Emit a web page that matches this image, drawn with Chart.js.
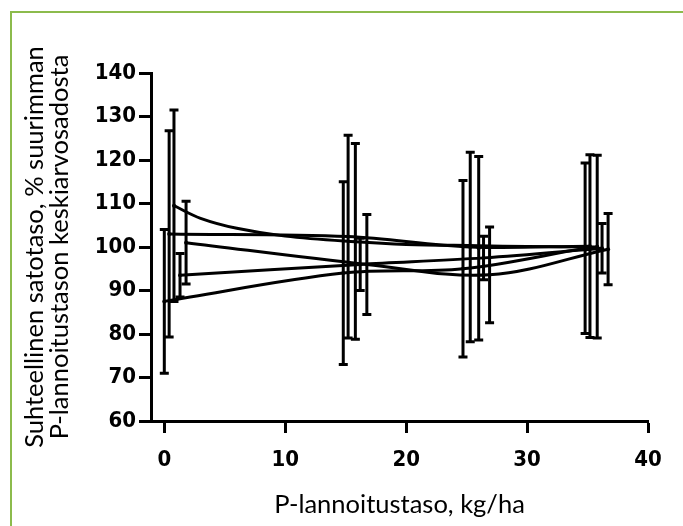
<!DOCTYPE html>
<html>
<head>
<meta charset="utf-8">
<script src="https://cdn.jsdelivr.net/npm/chart.js@4/dist/chart.umd.min.js"></script>
<style>
  html, body { margin: 0; padding: 0; background: #fff; }
  #wrap { position: relative; width: 683px; height: 526px; overflow: hidden; }
  #frame { position: absolute; left: 10px; top: 11px; width: 700px; height: 600px;
           border-top: 2px solid #8cbb4c; border-left: 2px solid #8cbb4c; }
  canvas { position: absolute; left: 0; top: 0; }
</style>
</head>
<body>
<div id="wrap">
  <div id="frame"></div>
  <canvas id="c" width="683" height="526"></canvas>
</div>
<script>
// ---- data ----
const xTickValues = [0, 10, 20, 30, 40];
const yTickValues = [60, 70, 80, 90, 100, 110, 120, 130, 140];

// means and error half-widths at each P level (each series slightly offset in x)
const s1X = [0.0, 14.8, 24.7, 34.8];
const s1Mean = [87.5, 94.0, 95.0, 99.7];
const s1Err = [16.5, 21.0, 20.3, 19.6];

const s2X = [0.4, 15.2, 25.3, 35.2];
const s2Mean = [103.0, 102.4, 100.0, 100.2];
const s2Err = [23.7, 23.3, 21.8, 21.0];

const s3X = [0.8, 15.8, 26.0, 35.8];
const s3Mean = [109.5, 101.3, 99.7, 100.1];
const s3Err = [22.0, 22.5, 21.1, 21.0];

const s4X = [1.3, 16.2, 26.4, 36.2];
const s4Mean = [93.5, 96.0, 97.5, 99.7];
const s4Err = [5.0, 6.0, 5.0, 5.7];

const s5X = [1.8, 16.75, 26.9, 36.7];
const s5Mean = [101.0, 96.0, 93.6, 99.5];
const s5Err = [9.5, 11.5, 11.0, 8.2];

// curve drawn for series 3 (it bends more than the means)
const s3CurveX = [0.8, 3, 6, 10, 15.8, 20, 26.0, 30, 35.8];
const s3CurveY = [109.5, 106.6, 104.3, 102.5, 101.2, 100.6, 100.3, 100.1, 100.0];

const xTitle = 'P-lannoitustaso, kg/ha';
const yTitle = ['Suhteellinen satotaso, % suurimman', 'P-lannoitustason keskiarvosadosta'];

const series = [
  { x: s1X, m: s1Mean, e: s1Err, lx: s1X, ly: s1Mean },
  { x: s2X, m: s2Mean, e: s2Err, lx: s2X, ly: s2Mean },
  { x: s3X, m: s3Mean, e: s3Err, lx: s3CurveX, ly: s3CurveY },
  { x: s4X, m: s4Mean, e: s4Err, lx: s4X, ly: s4Mean },
  { x: s5X, m: s5Mean, e: s5Err, lx: s5X, ly: s5Mean }
];

const datasets = [];
series.forEach(s => {
  // fitted line
  datasets.push({
    type: 'line',
    data: s.lx.map((xv, i) => ({ x: xv, y: s.ly[i] })),
    borderColor: '#000',
    borderWidth: 3,
    pointRadius: 0,
    tension: 0.35,
    fill: false
  });
  // means with error bars
  datasets.push({
    type: 'line',
    showLine: false,
    data: s.x.map((xv, i) => ({ x: xv, y: s.m[i] })),
    errors: s.e,
    borderColor: '#000',
    backgroundColor: '#000',
    pointRadius: 2,
    pointBorderWidth: 0
  });
});

const errorBars = {
  id: 'errorBars',
  afterDatasetsDraw(chart) {
    const ctx = chart.ctx;
    const xs = chart.scales.x, ys = chart.scales.y;
    ctx.save();
    ctx.strokeStyle = '#000';
    ctx.lineWidth = 3;
    ctx.lineCap = 'butt';
    chart.data.datasets.forEach(ds => {
      if (!ds.errors) return;
      ds.data.forEach((p, i) => {
        const e = ds.errors[i];
        const px = xs.getPixelForValue(p.x);
        const yt = ys.getPixelForValue(p.y + e);
        const yb = ys.getPixelForValue(p.y - e);
        ctx.beginPath();
        ctx.moveTo(px, yt); ctx.lineTo(px, yb);
        ctx.moveTo(px - 4.5, yt); ctx.lineTo(px + 4.5, yt);
        ctx.moveTo(px - 4.5, yb); ctx.lineTo(px + 4.5, yb);
        ctx.stroke();
      });
    });
    ctx.restore();
  }
};

const tickFont = { family: "'DejaVu Sans Condensed', 'Liberation Sans', Arial, sans-serif", size: 22, weight: 'bold' };
const titleFont = { family: "Lato, 'Open Sans', sans-serif", size: 25.5, weight: 'normal', lineHeight: 1.0 };

new Chart(document.getElementById('c'), {
  type: 'line',
  data: { datasets },
  plugins: [errorBars],
  options: {
    responsive: false,
    animation: false,
    events: [],
    layout: { padding: { left: 0, top: 73, right: 35, bottom: 0 } },
    plugins: { legend: { display: false }, tooltip: { enabled: false } },
    scales: {
      x: {
        type: 'linear',
        min: -1.1, max: 40,
        afterBuildTicks: s => { s.ticks = xTickValues.map(v => ({ value: v })); },
        afterFit: s => { s.height = 105; },
        ticks: { color: '#000', font: tickFont, padding: 14, maxRotation: 0 },
        grid: { display: true, drawOnChartArea: false, drawTicks: true, tickLength: 12, tickWidth: 3, tickColor: '#000' },
        border: { display: true, color: '#000', width: 3 },
        title: { display: true, text: xTitle, color: '#000', font: titleFont, padding: { top: 0, bottom: 8 } }
      },
      y: {
        type: 'linear',
        min: 60, max: 140,
        afterBuildTicks: s => { s.ticks = yTickValues.map(v => ({ value: v })); },
        afterFit: s => { s.width = 151; },
        ticks: { color: '#000', font: tickFont, padding: 3 },
        grid: { display: true, drawOnChartArea: false, drawTicks: true, tickLength: 12, tickWidth: 3, tickColor: '#000' },
        border: { display: true, color: '#000', width: 3 },
        title: { display: true, text: yTitle, color: '#000', font: titleFont, padding: { top: 22, bottom: 0 } }
      }
    }
  }
});
</script>
</body>
</html>
